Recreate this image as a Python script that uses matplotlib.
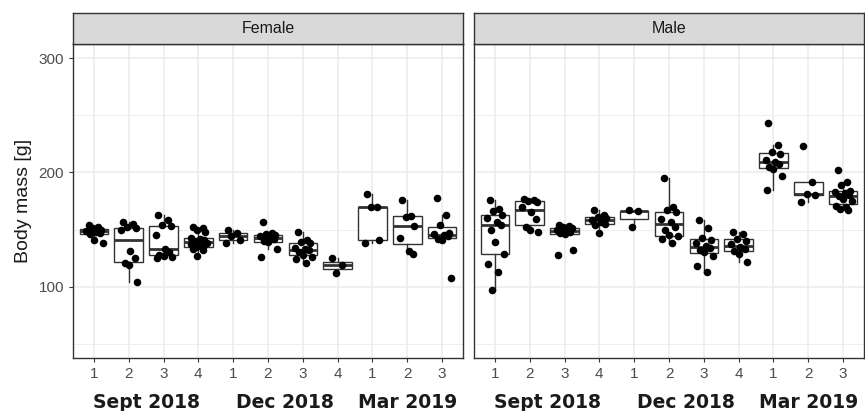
import matplotlib
matplotlib.use("Agg")
import matplotlib.pyplot as plt
import matplotlib.transforms as mtransforms

# ===================== data =====================
TICK_LABELS = ['1', '2', '3', '4', '1', '2', '3', '4', '1', '2', '3']
GROUPS = ['Sept 2018', 'Dec 2018', 'Mar 2019']
GROUP_CENTERS = [2.5, 6.5, 10]
PANELS = ['Female', 'Male']

FEMALE = [
    [154, 152, 151, 150, 149, 148, 147, 146, 141, 138],
    [157, 155, 152, 151, 150, 131, 125, 121, 119, 104],
    [163, 158, 154, 153, 145, 133, 130, 128, 127, 126, 125],
    [152, 151, 150, 148, 143, 142, 141, 140, 139, 138, 137, 136, 135, 135, 133, 132, 127],
    [150, 147, 144, 141, 138],
    [157, 147, 146, 145, 144, 143, 142, 140, 139, 133, 126],
    [148, 141, 139, 138, 134, 133, 132, 130, 128, 126, 124, 121],
    [125, 119, 112],
    [181, 170, 170, 141, 138],
    [176, 162, 161, 153, 143, 131, 129],
    [178, 163, 154, 147, 146, 145, 144, 142, 141, 108],
]

MALE = [
    [176, 168, 166, 163, 160, 157, 154, 150, 139, 129, 120, 113, 97],
    [177, 176, 175, 174, 170, 165, 159, 152, 150, 148],
    [154, 153, 152, 151, 150, 149, 148, 147, 146, 132, 128],
    [167, 163, 161, 160, 158, 157, 155, 154, 147],
    [167, 166, 152],
    [195, 170, 167, 165, 159, 157, 152, 150, 145, 144, 142, 138],
    [158, 151, 143, 141, 138, 136, 134, 132, 130, 127, 118, 113],
    [148, 146, 142, 140, 137, 135, 133, 131, 129, 122],
    [243, 224, 218, 216, 211, 209, 207, 205, 203, 197, 185],
    [223, 192, 181, 180, 174],
    [202, 192, 189, 184, 183, 182, 180, 179, 177, 175, 171, 170, 168, 167],
]

# fixed horizontal spread for the dots (like geom_jitter)
JITTER = [-0.15, 0.12, -0.05, 0.2, -0.22, 0.05, 0.17, -0.12, 0.0, 0.25, -0.2, 0.08, -0.08, 0.14]

# ===================== style =====================
GRID = '#EBEBEB'
DARK = '#333333'
TICK_TXT = '#4D4D4D'
STRIP_FILL = '#D9D9D9'
SANS = ['Liberation Sans', 'DejaVu Sans']

W, H = 865, 411
fig = plt.figure(figsize=(W / 100, H / 100), dpi=100)

PANEL_X = [73, 474]
PANEL_W = 390
TOP, BOTTOM = 44, 358
STRIP_TOP = 13


def draw_panel(ax, data, show_y):
    pos = list(range(1, len(data) + 1))
    ax.boxplot(data, positions=pos, widths=0.82, whis=1.5, showfliers=False,
               showcaps=False, patch_artist=True,
               boxprops=dict(facecolor='white', edgecolor=DARK, linewidth=1.0),
               whiskerprops=dict(color=DARK, linewidth=1.0),
               medianprops=dict(color=DARK, linewidth=2.0),
               zorder=2)
    for p, vals in zip(pos, data):
        xs = [p + JITTER[i % len(JITTER)] for i in range(len(vals))]
        ax.scatter(xs, vals, s=30, color='black', zorder=3, linewidths=0)

    ax.set_xlim(0.4, len(data) + 0.6)
    ax.set_ylim(37.5, 312.5)
    ax.set_xticks(pos)
    ax.set_xticklabels(TICK_LABELS, family=SANS)
    ax.set_yticks([100, 200, 300])
    ax.set_yticklabels(['100', '200', '300'], family=SANS)
    ax.set_yticks([50, 150, 250], minor=True)
    ax.grid(True, which='major', color=GRID, linewidth=1.1, zorder=0)
    ax.grid(True, which='minor', axis='y', color=GRID, linewidth=0.6, zorder=0)
    ax.set_axisbelow(True)
    ax.tick_params(axis='both', which='major', colors=DARK, length=3, width=0.8,
                   labelcolor=TICK_TXT, labelsize=11)
    ax.tick_params(axis='y', which='minor', length=0)
    if not show_y:
        ax.tick_params(axis='y', which='major', length=0, labelleft=False)
    for sp in ax.spines.values():
        sp.set_color(DARK)
        sp.set_linewidth(1.0)

    trans = mtransforms.blended_transform_factory(ax.transData, ax.transAxes)
    for g, c in zip(GROUPS, GROUP_CENTERS):
        ax.text(c, -0.142, g, transform=trans, ha='center', va='center',
                fontsize=13.5, fontweight='bold', color='#1A1A1A')


for k, (name, data) in enumerate(zip(PANELS, [FEMALE, MALE])):
    left = PANEL_X[k] / W
    ax = fig.add_axes([left, (H - BOTTOM) / H, PANEL_W / W, (BOTTOM - TOP) / H])
    draw_panel(ax, data, show_y=(k == 0))

    strip = fig.add_axes([left, (H - TOP) / H, PANEL_W / W, (TOP - STRIP_TOP) / H])
    strip.set_facecolor(STRIP_FILL)
    strip.set_xticks([])
    strip.set_yticks([])
    for sp in strip.spines.values():
        sp.set_color(DARK)
        sp.set_linewidth(1.0)
    strip.text(0.5, 0.5, name, ha='center', va='center', fontsize=11.5,
               color='#1A1A1A', family=SANS)

    if k == 0:
        ax.set_ylabel('Body mass [g]', fontsize=14, color='#1A1A1A',
                      labelpad=5, family=SANS)

fig.savefig('out.png', dpi=100)
